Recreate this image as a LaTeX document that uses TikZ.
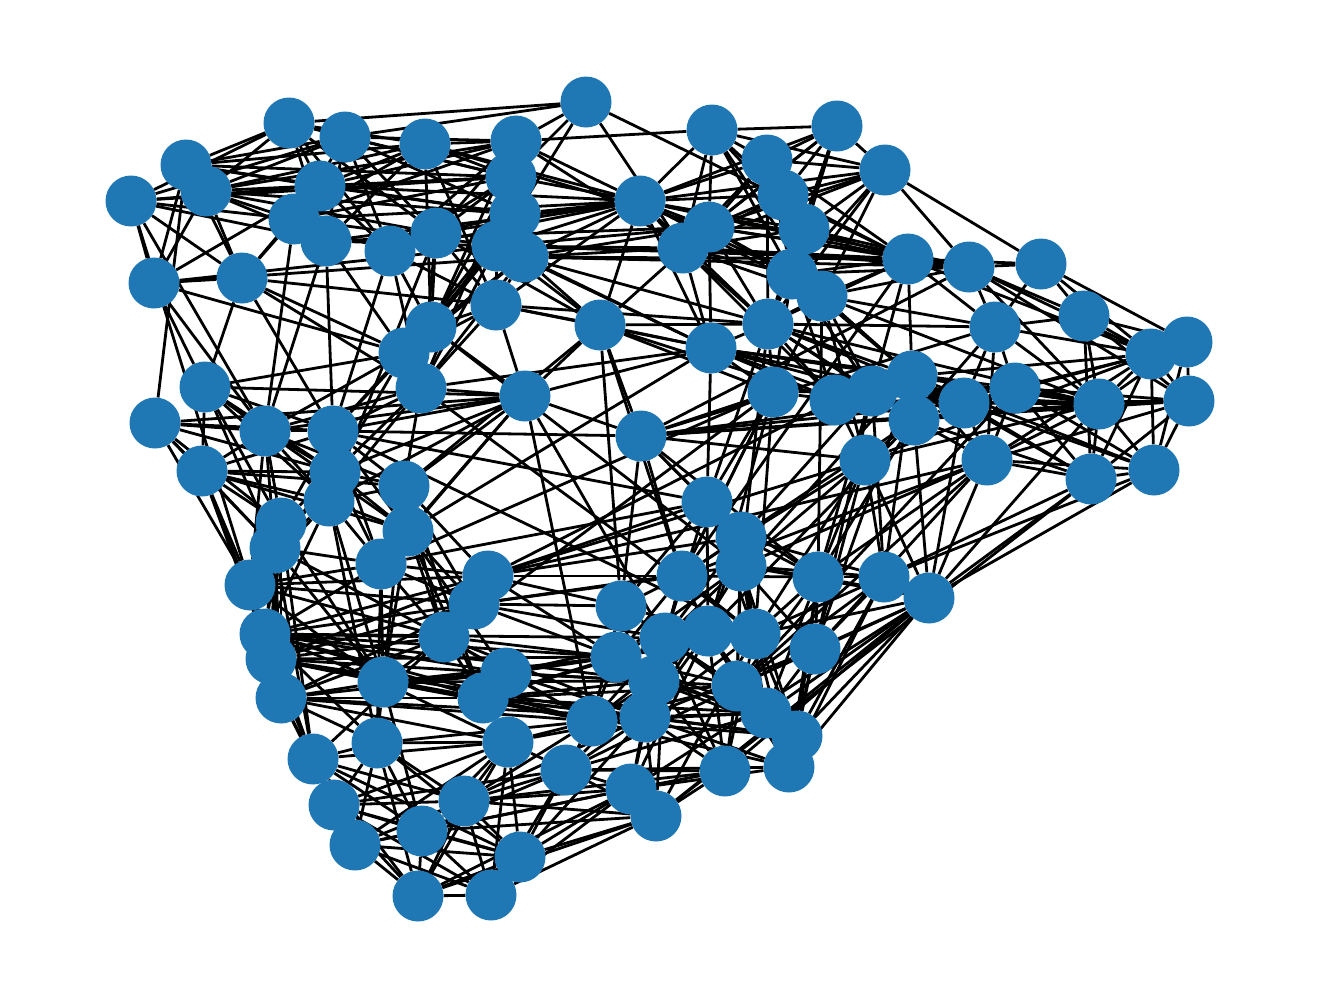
\documentclass[tikz,border=0pt]{standalone}
\usetikzlibrary{backgrounds}
\definecolor{nodeblue}{HTML}{1F77B4}
\tikzset{vertex/.style={circle,fill=nodeblue,minimum size=51pt,inner sep=0pt},link/.style={draw=black,line width=2.8pt}}
\begin{document}
\begin{tikzpicture}[x=1pt,y=-1pt]
		\useasboundingbox (0,0) rectangle (1320,999);
		
		\foreach \i/\px/\py in {1/586/102,2/712/130,3/837/126,4/885/170,5/767/160,6/783/195,7/804/229,8/640/201,9/709/227,10/683/248,
			11/792/274,12/822/296,13/908/259,14/969/267,15/1041/264,16/995/327,17/1084/316,18/1187/342,19/1151/354,20/1189/401,
			21/1099/404,22/1154/470,23/1091/479,24/987/460,25/1015/388,26/964/403,27/912/376,28/914/420,29/872/391,30/835/400,
			31/865/460,32/773/392,33/768/324,34/711/348,35/600/325,36/525/396,37/496/305,38/523/257,39/497/246,40/515/214,
			41/511/177,42/516/141,43/425/144,44/345/137,45/289/123,46/186/165,47/206/191,48/131/201,49/320/186,50/294/219,
			51/326/241,52/390/251,53/436/233,54/154/283,55/242/278,56/431/327,57/404/353,58/421/388,59/205/387,60/155/423,
			61/265/431,62/202/471,63/333/431,64/335/472,65/329/501,66/404/486,67/408/531,68/381/564,69/281/523,70/275/548,
			71/250/585,72/488/576,73/474/604,74/444/637,75/265/634,76/271/659,77/281/698,78/383/682,79/506/673,80/483/698,
			81/377/743,82/313/759,83/508/742,84/334/805,85/355/845,86/422/831,87/464/801,88/520/857,89/418/896,90/491/895,
			91/566/770,92/592/721,93/621/606,94/616/657,95/641/436,96/707/502,97/741/537,98/741/566,99/682/576,100/818/577,
			101/884/577,102/929/598,103/665/638,104/708/631,105/755/634,106/815/649,107/654/681,108/645/717,109/737/686,110/766/713,
			111/797/736,112/789/767,113/725/771,114/631/789,115/656/816}
			\node[vertex] (v\i) at (\px,\py) {};
		
		\begin{pgfonlayer}{background}
		% top left
		\foreach \a/\b in {1/45,1/44,1/42,1/41,1/39,1/13,1/10,2/42,
			45/46,45/47,45/48,45/49,45/51,45/52,45/53,45/43,45/41,
			44/46,44/47,44/48,44/50,44/51,44/53,44/52,44/42,44/41,44/40,
			43/46,43/47,43/42,43/41,43/49,43/50,43/51,43/8,43/9,
			42/47,42/49,42/50,42/52,42/8,42/10,
			46/41,46/40,46/49,46/54,46/55,46/60,
			47/41,47/40,47/53,47/51,47/55,47/54,47/52,
			48/50,48/49,48/51,48/41,48/61,48/55,48/54,48/71,
			49/8,49/52,49/40,49/55,49/54,50/8,50/41,50/39,50/55,50/61,
			51/8,51/39,51/9,51/63,51/61,51/57,52/8,52/41,52/37,52/56,52/63,52/58,
			53/41,53/42,53/8,53/40,53/37,53/65,
			54/55,54/39,54/38,54/59,54/61,54/57,55/37,55/57,55/58,55/63,55/59,
			56/38,56/39,56/40,56/41,56/42,56/43,56/53,57/39,57/40,57/38,58/38,58/39,58/53,58/41,
			37/38,37/39,37/8,37/56,37/57,37/58,37/43,37/36,
			36/59,36/61,36/63,36/60,36/64,36/58,36/56,36/35,36/65}
			\draw[link] (v\a) -- (v\b);
		% top right
		\foreach \a/\b in {2/3,2/4,2/5,2/6,2/7,2/8,2/9,2/10,2/11,2/12,
			3/4,3/5,3/6,3/7,3/8,3/9,3/10,3/11,3/33,
			4/5,4/6,4/7,4/8,4/9,4/10,4/11,4/12,4/33,4/15,4/14,
			5/8,5/9,5/10,5/11,5/12,5/13,6/8,6/9,6/10,6/12,6/13,
			7/8,7/9,7/10,7/13,7/14,7/33,
			8/9,8/10,8/11,8/12,8/38,8/39,8/40,8/41,8/33,
			9/11,9/12,9/38,9/39,9/14,10/11,10/12,10/38,10/39,
			12/33,38/13,39/13,38/14,
			13/14,13/15,13/16,13/19,13/12,13/11,13/10,13/9,13/8,13/33,13/29,13/27,
			14/15,14/16,14/17,14/19,14/21,14/11,14/12,14/10,14/8,14/20,
			15/16,15/17,15/18,15/19,16/17,16/19,16/21,16/25,16/28,16/26,16/33,16/12,16/24,
			17/18,17/19,17/21,17/20,17/23,18/19,18/20,18/21,18/22,
			19/20,19/21,19/22,19/23,19/25,19/26,19/24,19/27,19/31,
			20/21,20/22,20/23,20/26,20/25,20/24,20/95,
			21/22,21/23,21/24,21/25,21/26,21/27,21/28,21/29,21/30,21/31,21/33,21/34,21/12,
			22/23,22/26,22/25,22/24,22/27,22/101,22/102,
			23/25,23/26,23/24,23/27,23/28,23/101,23/102,23/115,
			24/25,24/26,24/27,24/28,24/100,24/106,24/98,
			25/26,25/34,25/30,25/29,25/32,25/109,
			26/27,26/28,26/29,26/30,26/34,26/33,
			27/28,27/29,27/33,27/12,27/34,27/11,28/29,28/31,28/33,28/34,
			29/30,29/32,29/33,29/11,29/12,29/34,
			30/31,30/32,30/33,30/34,30/35,30/11,30/10,
			31/12,31/100,31/101,31/102,31/106,31/98,31/97,
			32/33,32/34,32/95,32/35,32/12,32/11,32/96,32/99,
			33/34,33/35,33/11,33/12,33/9,33/10,33/37,33/38,33/5,
			34/35,34/9,34/10,34/37,34/38,34/39,34/36,34/96,34/58,34/8,
			35/37,35/38,35/39,35/8,35/53,35/9,35/93}
			\draw[link] (v\a) -- (v\b);
		% left and bottom left
		\foreach \a/\b in {59/57,59/61,59/62,59/63,59/65,59/69,59/70,59/64,
			60/61,60/62,60/63,60/64,60/71,60/69,60/70,
			61/62,61/63,61/64,61/65,61/69,61/70,61/71,61/67,61/66,61/58,61/57,
			62/63,62/64,62/65,62/69,62/70,62/71,62/75,62/76,62/67,62/66,
			63/64,63/65,63/66,63/67,63/68,63/58,63/57,63/69,63/56,63/95,
			64/66,64/67,64/68,64/58,64/57,64/69,64/70,64/71,
			65/66,65/67,65/68,65/69,65/70,65/71,65/81,65/78,65/75,65/58,
			66/67,66/68,66/73,66/74,66/58,66/36,66/78,66/72,66/35,66/80,
			67/68,67/73,67/74,67/36,67/79,67/78,67/80,
			68/72,68/73,68/74,68/78,68/75,68/71,68/70,68/81,
			69/75,69/76,69/77,69/78,69/82,70/75,70/76,70/77,70/82,70/78,70/74,
			71/75,71/76,71/77,71/73,71/72,71/74,71/82,71/78,
			72/74,72/75,72/93,72/94,72/99,72/76,72/97,72/96,
			73/76,73/77,73/75,73/93,73/94,73/98,73/103,73/99,
			74/75,74/76,74/77,74/78,74/79,74/80,74/94,74/92,74/108,74/82,
			75/78,75/79,75/80,75/94,75/103,75/107,75/81,75/92,
			76/78,76/80,76/79,76/92,76/94,76/108,76/82,
			77/78,77/80,77/79,77/82,77/83,77/81,77/85,77/108,77/92,
			78/79,78/80,78/81,78/92,78/83,78/94,78/86,78/107,
			79/94,79/103,79/92,79/108,79/107,79/109,79/105,
			80/92,80/94,80/107,80/108,80/109,80/104,80/110,80/111,
			81/82,81/83,81/84,81/85,81/86,81/87,81/88,81/89,81/92,
			82/83,82/84,82/85,82/86,82/87,82/89,82/88,
			83/84,83/85,83/86,83/87,83/88,83/89,83/90,83/91,83/92,83/108,
			84/85,84/86,84/87,84/88,84/89,84/90,84/91,
			85/86,85/87,85/88,85/89,85/90,85/114,
			86/87,86/88,86/89,86/90,86/91,86/114,86/115,
			87/88,87/89,87/90,87/91,87/92,87/108,87/115,87/114,87/113,
			88/89,88/90,88/114,88/115,88/91,88/108,89/90,89/114,90/114,90/115,90/91,89/115}
			\draw[link] (v\a) -- (v\b);
		% bottom right
		\foreach \a/\b in {91/92,91/107,91/108,91/109,91/110,91/113,91/114,91/115,91/112,
			92/94,92/107,92/109,92/110,92/111,92/112,92/93,92/103,92/104,
			93/99,93/103,93/95,93/96,93/104,93/108,
			94/104,94/105,94/109,94/110,94/99,94/98,94/111,
			95/96,95/99,95/97,95/35,95/36,
			96/103,96/104,96/105,96/100,96/98,97/99,97/103,97/104,97/105,97/109,97/100,97/101,
			98/103,98/105,98/106,98/109,98/100,98/101,98/102,98/111,98/110,98/108,
			99/103,99/104,99/105,99/107,99/108,99/100,
			100/101,100/102,100/105,100/106,100/109,100/111,100/112,100/110,
			101/102,101/105,101/106,101/109,101/111,101/112,
			102/105,102/106,102/109,102/110,102/111,102/112,102/113,102/114,102/115,
			103/107,103/109,103/110,103/113,103/114,103/115,
			104/107,104/108,104/110,104/112,104/113,104/114,
			105/108,105/111,105/112,105/113,105/115,
			106/109,106/110,106/111,106/112,106/108,
			107/110,107/111,107/113,107/114,108/110,108/111,108/112,108/113,108/114,108/115,
			109/112,109/113,113/114,113/115,112/114}
			\draw[link] (v\a) -- (v\b);
		% long ones
		\foreach \a/\b in {36/68,36/92,63/96,68/32,67/34,68/96,72/30,72/31,72/24,74/32,56/98,58/105,63/105,36/103,35/99,
			95/31,95/14,95/26,95/25,95/21,95/16,95/100,96/33,97/29,98/33,98/27,99/13,99/28,99/24,99/32,
			100/12,100/29,100/28,101/27,102/28,101/29,102/26,102/21,102/24,105/31,106/29,106/27,104/28,104/32,105/32,109/24}
			\draw[link] (v\a) -- (v\b);
		\end{pgfonlayer}
\end{tikzpicture}
\end{document}
